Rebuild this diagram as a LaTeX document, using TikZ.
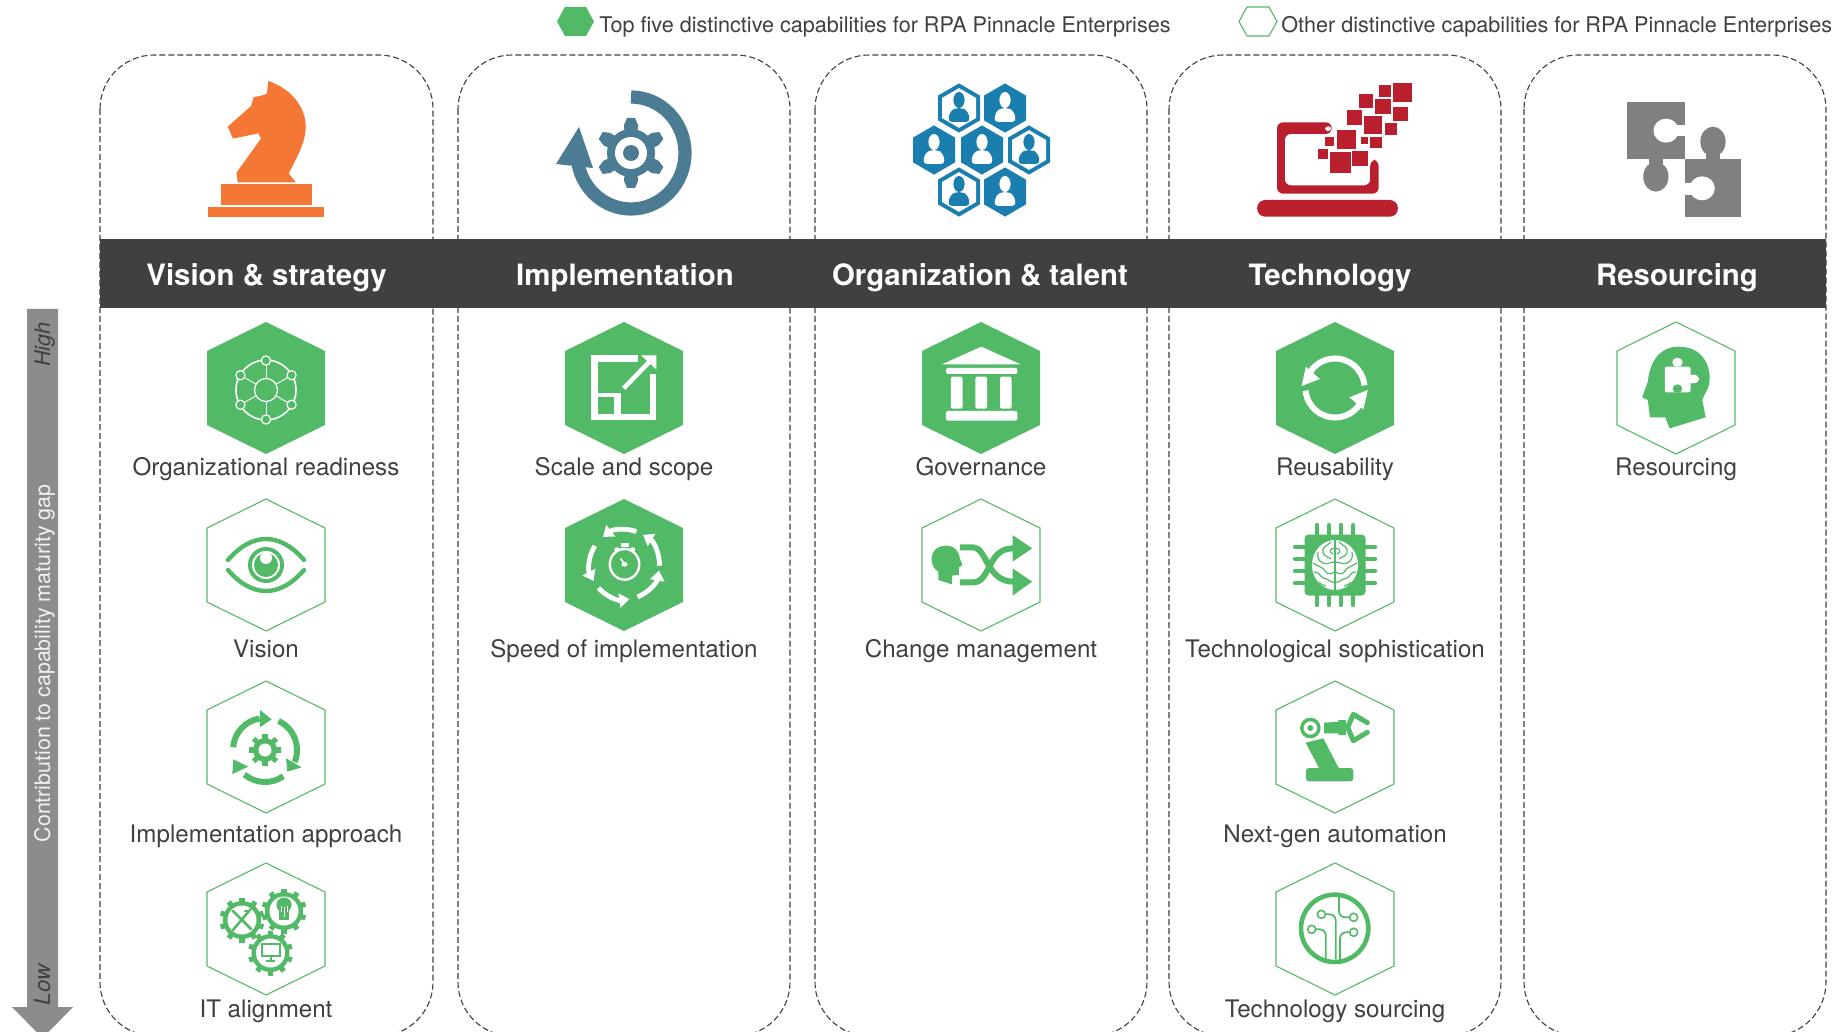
\documentclass[tikz,border=0pt]{standalone}
\usepackage{fontspec}
\setmainfont{TeX Gyre Heros}
\usetikzlibrary{arrows.meta}
\definecolor{gr}{HTML}{52BA67}
\definecolor{dk}{HTML}{404040}
\definecolor{org}{HTML}{F47735}
\definecolor{teal}{HTML}{4B7C93}
\definecolor{blu}{HTML}{1A7FAE}
\definecolor{red1}{HTML}{B91F2D}
\definecolor{gy}{HTML}{808080}
\definecolor{agy}{HTML}{8C8C8C}
\tikzset{
  panel/.style={draw=dk,line width=.55pt,dash pattern=on 3pt off 1.5pt,rounded corners=27pt},
  captext/.style={anchor=base,text=dk,font=\fontsize{12.08}{14}\selectfont,inner sep=0pt},
  legendtext/.style={anchor=base west,text=dk,font=\fontsize{10.8}{14}\selectfont,inner sep=0pt},
  headtext/.style={anchor=base,text=white,font=\bfseries\fontsize{14.7}{16}\selectfont,inner sep=0pt},
  hexfill/.style={fill=gr},
  hexline/.style={draw=gr,line width=.55pt,fill=white},
  wh/.style={draw=white,line cap=round,line join=round},
  gs/.style={draw=gr,line cap=round,line join=round},
  disp1/.style={xscale=.58687,yscale=.33333},
  disp2/.style={shift={(900,0)},xscale=.60132,yscale=.33333},
}
\newcommand\hexa[3]{\path[#1] (#2,#3-66) -- (#2+59,#3-37) -- (#2+59,#3+37) -- (#2,#3+66) -- (#2-59,#3+37) -- (#2-59,#3-37) -- cycle;}
\newcommand\bhex[4]{\fill[#4] (#1,#2-#3*1.17) -- (#1+#3,#2-#3*.59) -- (#1+#3,#2+#3*.59) -- (#1,#2+#3*1.17) -- (#1-#3,#2+#3*.59) -- (#1-#3,#2-#3*.59) -- cycle;}
\newcommand\person[3]{\fill[#3] (#1,#2-8) ellipse (5.6 and 8);
  \fill[#3,rounded corners=2pt] (#1-11,#2+14) -- (#1-9,#2+3) -- (#1-3,#2) -- (#1+3,#2) -- (#1+9,#2+3) -- (#1+11,#2+14) -- cycle;}
\newcommand\bluefull[2]{\bhex{#1}{#2}{21}{blu}\person{#1}{#2}{white}}
\newcommand\blueline[2]{\bhex{#1}{#2}{21}{blu}\bhex{#1}{#2}{17}{white}\person{#1}{#2}{blu}}
\newcommand\gearg[6]{%
  \fill[#6] (#1,#2) circle (#4);
  \foreach \k in {1,...,#5}{\draw[#6,line width=2.6pt] (#1,#2) -- ++(90+\k*360/#5:#3);}}
\begin{document}
\begin{tikzpicture}[x=.5pt,y=-.5pt]
\clip (0,0) rectangle (1843,1032);
\path[fill=white] (0,0) rectangle (1843,1032);
% legend
\fill[gr] (557,21.5) -- (565,7) -- (586,7) -- (594,21.5) -- (586,36) -- (565,36) -- cycle;
\node[legendtext] (legA) at (599,33) {Top five distinctive capabilities for RPA Pinnacle Enterprises};
\draw[gr,line width=.55pt] (1239,21.5) -- (1247,7) -- (1269,7) -- (1277,21.5) -- (1269,36) -- (1247,36) -- cycle;
\node[legendtext] (legB) at (1281,33) {Other distinctive capabilities for RPA Pinnacle Enterprises};
% panels
\draw[panel] (100,55) rectangle (433,1036);
\draw[panel] (458,55) rectangle (790,1036);
\draw[panel] (815,55) rectangle (1147,1036);
\draw[panel] (1169,55) rectangle (1501,1036);
\draw[panel] (1524,55) rectangle (1826,1036);
% header bar
\fill[dk] (100,239) rectangle (1826,308);
\node[headtext] (hA) at (266.5,286) {Vision \& strategy};
\node[headtext] (hB) at (625,286) {Implementation};
\node[headtext] (hC) at (980,286) {Organization \& talent};
\node[headtext] (hD) at (1330,286) {Technology};
\node[headtext] (hE) at (1677,286) {Resourcing};
% gap arrow
\fill[agy] (27,309) -- (58,309) -- (58,1007) -- (73,1007) -- (42.5,1038) -- (12,1007) -- (27,1007) -- cycle;
\node[rotate=90,anchor=base,inner sep=0pt,text=dk,font=\itshape\fontsize{10.8}{13}\selectfont] (hi) at (50,344.5) {High};
\node[rotate=90,anchor=base,inner sep=0pt,text=white!95!black,font=\fontsize{10.7}{13}\selectfont] (ctr) at (50,663.5) {Contribution to capability maturity gap};
\node[rotate=90,anchor=base,inner sep=0pt,text=dk,font=\itshape\fontsize{11.2}{13}\selectfont] (lo) at (50,985) {Low};
% knight
\begin{scope}[disp1]
\fill[org] (355,621) rectangle (552,650);
\fill[org] (376,552) rectangle (532,615);
\fill[org] (457,243) -- (455,280) -- (450,285) -- (432,292) -- (428,318) -- (388,380) -- (397,416) -- (440,400) -- (445,415) -- (403,518) -- (405,547) -- (504,547) -- (492,520) .. controls (510,460) and (521,420) .. (521,380) .. controls (521,320) and (495,265) .. (457,243) -- cycle;
\end{scope}
% implementation icon
\begin{scope}[shift={(631,153)}]
\draw[teal,line width=6.6pt] (0,-56) arc (-90:168:54 and 56);
\fill[teal] (-52,-26) -- (-75,11) -- (-38,15) -- cycle;
\foreach \a in {30,90,150,210,270,330}{\fill[teal,rotate=\a] (0,-5) -- (28,-7) -- (35,-4) -- (35,4) -- (28,7) -- (0,5) -- cycle;}
\fill[teal] (0,0) circle (24);
\fill[white] (0,0) circle (16);
\fill[teal] (0,0) circle (8);
\end{scope}
% org hexagons
\blueline{959}{108}\bluefull{1005}{108}
\bluefull{934}{150}\bluefull{982}{150}\blueline{1029}{150}
\blueline{959}{192}\bluefull{1005}{192}
% technology icon
\begin{scope}[disp2]
\fill[red1,rounded corners=3pt] (627,581) -- (627,367) -- (718,367) -- (718,402) -- (640,402) -- (640,556) -- (782,556) -- (782,480) -- (796,480) -- (796,581) -- cycle;
\fill[red1,rounded corners=4pt] (594,600) rectangle (828,650);
\foreach \xa/\xb/\ya/\yb in {820/852/250/305,796/816/255/290,763/787/282/324,790/817/296/342,820/845/320/362,743/768/330/375,771/801/348/402,806/826/368/404,727/758/390/447,707/722/410/438,767/778/412/432,782/801/412/444,695/712/447/476,715/750/455/518,752/778/453/498}{\fill[red1] (\xa,\ya) rectangle (\xb,\yb);}
\fill[white] (712,386) ellipse (5 and 7);
% puzzle
\fill[gy] (1209,306) rectangle (1305,478);
\fill[gy] (1305,478) rectangle (1399,650);
\fill[gy] (1352,425) ellipse (21 and 45);
\fill[gy] (1340,460) rectangle (1364,480);
\fill[gy] (1257,530) ellipse (21 and 45);
\fill[gy] (1245,476) rectangle (1269,495);
\fill[white] (1274,392) ellipse (21 and 36);
\fill[white] (1285,375) rectangle (1306,408);
\fill[white] (1334,565) ellipse (21 and 36);
\fill[white] (1304,548) rectangle (1322,585);
\end{scope}
% hexagons
\hexa{hexfill}{266}{388}
\hexa{hexline}{266}{565}
\hexa{hexline}{266}{747}
\hexa{hexline}{266}{929}
\hexa{hexfill}{624}{388}
\hexa{hexfill}{624}{565}
\hexa{hexfill}{981}{388}
\hexa{hexline}{981}{565}
\hexa{hexfill}{1335}{388}
\hexa{hexline}{1335}{565}
\hexa{hexline}{1335}{747}
\hexa{hexline}{1335}{929}
\hexa{hexline}{1676}{388}
% captions
\node[captext] (c11) at (266,475) {Organizational readiness};
\node[captext] (c12) at (266,657) {Vision};
\node[captext] (c13) at (266,842) {Implementation approach};
\node[captext] (c14) at (266,1017) {IT alignment};
\node[captext] (c21) at (624,475) {Scale and scope};
\node[captext] (c22) at (624,657) {Speed of implementation};
\node[captext] (c31) at (981,475) {Governance};
\node[captext] (c32) at (981,657) {Change management};
\node[captext] (c41) at (1335,475) {Reusability};
\node[captext] (c42) at (1335,657) {Technological sophistication};
\node[captext] (c43) at (1335,842) {Next-gen automation};
\node[captext] (c44) at (1335,1017) {Technology sourcing};
\node[captext] (c51) at (1676,475) {Resourcing};
% organizational readiness
\begin{scope}[shift={(266,390)}]
\draw[wh,line width=.8pt] (0,0) circle (30);
\foreach \a in {90,150,210,270,330,30}{\draw[wh,line width=.45pt] (0,0) -- (\a:29);}
\draw[wh,line width=.6pt,fill=gr] (0,0) circle (11.5);
\foreach \a in {90,150,210,270,330,30}{\draw[wh,line width=.6pt,fill=gr] (\a:29.5) circle (4.6);}
\end{scope}
% vision
\begin{scope}[shift={(266,565)}]
\draw[gs,line width=2.2pt] (-38,-5) .. controls (-14,-33) and (14,-33) .. (38,-5);
\draw[gs,line width=2.2pt] (-38,5) .. controls (-14,33) and (14,33) .. (38,5);
\fill[gr] (0,0) circle (18);
\fill[white] (0,0) circle (14);
\fill[gr] (0,0) circle (12);
\fill[white] (0,-7) circle (6);
\end{scope}
% implementation approach
\begin{scope}[shift={(0,670)},scale=.33333]
\draw[gr,line width=3pt] (795,240) ++(-175:96) arc (-175:-100:96);
\draw[gr,line width=3pt] (795,240) ++(-65:96) arc (-65:22:96);
\draw[gr,line width=3pt] (795,240) ++(55:96) arc (55:130:96);
\fill[gr] (780,120) -- (815,148) -- (780,172) -- cycle;
\fill[gr] (858,265) -- (905,292) -- (862,305) -- cycle;
\fill[gr] (700,268) -- (745,290) -- (697,312) -- cycle;
\end{scope}
\begin{scope}[shift={(266,747)}]
\gearg{-1}{3}{16}{12}{8}{gr}
\fill[white] (-1,3) circle (6.5);
\end{scope}
% IT alignment
\begin{scope}[shift={(266,929)}]
\gearg{-24}{-9}{22.5}{19}{10}{gr}\fill[white] (-24,-9) circle (14.5);
\gearg{18}{-18}{22.5}{19}{10}{gr}\fill[white] (18,-18) circle (14.5);
\gearg{4.5}{24}{22.5}{19}{10}{gr}\fill[white] (4.5,24) circle (14.5);
\draw[gs,line width=1.3pt] (-33,-18) -- (-15,0);
\draw[gs,line width=1.3pt] (-17,-18) -- (-33,1);
\draw[gs,line width=1pt] (-14,-22) -- (-17,-18) -- (-21,-18);
\fill[gr] (18,-24) circle (7.6);
\fill[gr] (13,-22) rectangle (23,-9);
\draw[white,line width=.4pt] (15,-23) -- (15,-17) (21,-23) -- (21,-17) (18,-22) -- (18,-12);
\draw[gr,line width=.6pt,fill=white] (-4,15) rectangle (14,27);
\draw[gr,line width=1pt] (4.5,27) -- (4.5,31) (0,32) -- (9,32);
\end{scope}
% scale and scope
\begin{scope}[shift={(500,310)},xscale=.44643,yscale=.33333]
\fill[white] (204,136) rectangle (310,155);
\fill[white] (204,136) rectangle (219,331);
\fill[white] (204,312) rectangle (350,331);
\fill[white] (335,192) rectangle (350,331);
\fill[white] (204,248) rectangle (270,262);
\fill[white] (255,248) rectangle (270,331);
\draw[white,line width=2.3pt] (277,235) -- (340,148);
\fill[white] (350,136) -- (316,136) -- (350,178) -- cycle;
% speed
\draw[white,line width=1.2pt] (279,763) ellipse (33 and 46);
\fill[white] (270,700) rectangle (288,712);
\fill[white] (279,763) circle (7);
\draw[white,line width=.7pt] (279,763) -- (270,745);
\fill[white] (262,718) circle (6);
\fill[white] (297,718) circle (6);
% governance
\fill[white] (990,163) -- (1078,110) -- (1166,163) -- cycle;
\fill[white,rounded corners=1pt] (999,174) rectangle (1159,192);
\foreach \x in {1010,1065,1120}{\fill[white,rounded corners=1pt] (\x,200) rectangle (\x+26,296);}
\fill[white,rounded corners=1pt] (999,303) rectangle (1159,332);
% change management
\fill[gr] (1000,707) .. controls (1020,707) and (1030,730) .. (1030,745) -- (1036,765) -- (1028,772) -- (1028,795) -- (1012,797) -- (1012,823) -- (982,810) -- (982,785) .. controls (960,770) and (958,707) .. (1000,707) -- cycle;
\draw[gr,line width=3pt] (1030,712) -- (1060,712) .. controls (1090,712) and (1090,815) .. (1150,815);
\draw[gr,line width=3pt] (1030,817) -- (1060,817) .. controls (1100,817) and (1090,715) .. (1150,715);
\fill[gr] (1148,675) -- (1192,715) -- (1148,755) -- cycle;
\fill[gr] (1148,775) -- (1192,815) -- (1148,857) -- cycle;
\end{scope}
% speed arrows
\begin{scope}[shift={(624.5,564.5)}]
\foreach \a/\b in {-70/-128,2/-58,68/10,138/82,-148/-208}{\draw[white,line width=2.4pt,-{Triangle[width=7pt,length=5pt]}] (\a:35) arc (\a:\b:35);}
\end{scope}
% reusability
\begin{scope}[shift={(1160,310)},xscale=.43554,yscale=.33333]
\fill[white] (325,228) -- (335,170) -- (367,207) -- cycle;
\fill[white] (477,240) -- (467,298) -- (435,262) -- cycle;
\end{scope}
\begin{scope}[shift={(1335,388)}]
\draw[white,line width=3pt] (-5:29.5) arc (-5:-146:29.5);
\draw[white,line width=3pt] (175:29.5) arc (175:34:29.5);
\end{scope}
% technological sophistication
\begin{scope}[shift={(1335,565)}]
\fill[gr,rounded corners=2pt] (-30.5,-30.5) rectangle (30.5,30.5);
\foreach \v in {-18,-6,6,18}{
 \draw[gr,line width=2.2pt,line cap=round] (\v,-40) -- (\v,-30);
 \draw[gr,line width=2.2pt,line cap=round] (\v,40) -- (\v,30);
 \draw[gr,line width=2.2pt,line cap=round] (-40,\v) -- (-30,\v);
 \draw[gr,line width=2.2pt,line cap=round] (40,\v) -- (30,\v);}
\fill[white] (0,0) ellipse (23 and 25);
\draw[gr,line width=.6pt] (0,-25) -- (0,25);
\foreach \s in {1,-1}{
 \begin{scope}[xscale=\s]
 \draw[gr,line width=.6pt] (0,-17) .. controls (6,-17) and (6,-12) .. (2,-11);
 \draw[gr,line width=.6pt] (4,-23) .. controls (9,-18) and (13,-19) .. (12,-12) .. controls (10,-8) and (6,-8) .. (4,-6);
 \draw[gr,line width=.6pt] (0,-3) .. controls (6,-3) and (7,0) .. (12,-2) .. controls (17,-4) and (18,-8) .. (17,-13);
 \draw[gr,line width=.6pt] (22,-2) .. controls (16,2) and (12,2) .. (10,6) .. controls (8,10) and (3,9) .. (1,7);
 \draw[gr,line width=.6pt] (21,7) .. controls (17,6) and (15,11) .. (12,13) .. controls (9,15) and (7,13) .. (5,16) .. controls (4,18) and (2,17) .. (0,17);
 \draw[gr,line width=.6pt] (16,17) .. controls (14,20) and (11,20) .. (9,21);
 \end{scope}}
\end{scope}
% next gen automation
\begin{scope}[shift={(1160,670)},scale=.33333]
\fill[gr,rounded corners=1.5pt] (438,294) rectangle (580,334);
\fill[gr] (437,218) -- (490,205) -- (537,296) -- (478,296) -- cycle;
\fill[gr] (451,174) circle (31);
\fill[white] (451,174) circle (20);
\fill[gr] (451,174) circle (9);
\fill[gr] (492,158) -- (535,155) -- (535,150) -- (558,150) -- (558,195) -- (535,195) -- (535,190) -- (492,190) -- cycle;
\draw[gs,line width=2.5pt] (622,158) -- (580,133) -- (563,172) -- (580,212) -- (622,187);
% tech sourcing
\draw[gr,line width=2.3pt] (524,775) circle (101);
\foreach \p in {(455,778),(484,733),(581,787),(581,742)}{\draw[gr,line width=.8pt] \p circle (12);}
\draw[gr,line width=.9pt,rounded corners=3pt] (497,868) -- (497,778) -- (467,778);
\draw[gr,line width=.9pt,rounded corners=3pt] (527,868) -- (527,733) -- (496,733);
\draw[gr,line width=.9pt,rounded corners=3pt] (540,868) -- (540,787) -- (569,787);
\draw[gr,line width=.9pt,rounded corners=3pt] (537,680) -- (537,742) -- (569,742);
\end{scope}
% resourcing head
\begin{scope}[shift={(1160,310)},xscale=.43554,yscale=.33333]
\fill[gr] (1120,215) .. controls (1125,150) and (1150,110) .. (1190,110) .. controls (1240,110) and (1262,155) .. (1262,205) .. controls (1262,235) and (1250,250) .. (1245,270) -- (1253,322) -- (1170,355) -- (1160,322) -- (1125,322) -- (1120,270) -- (1107,262) -- cycle;
\fill[white,rounded corners=1pt] (1159,170) rectangle (1218,247);
\fill[white] (1188,157) ellipse (12 and 14);
\fill[white] (1224,207) ellipse (14 and 13);
\fill[gr] (1188,236) ellipse (11 and 13);
\end{scope}
\end{tikzpicture}
\end{document}
